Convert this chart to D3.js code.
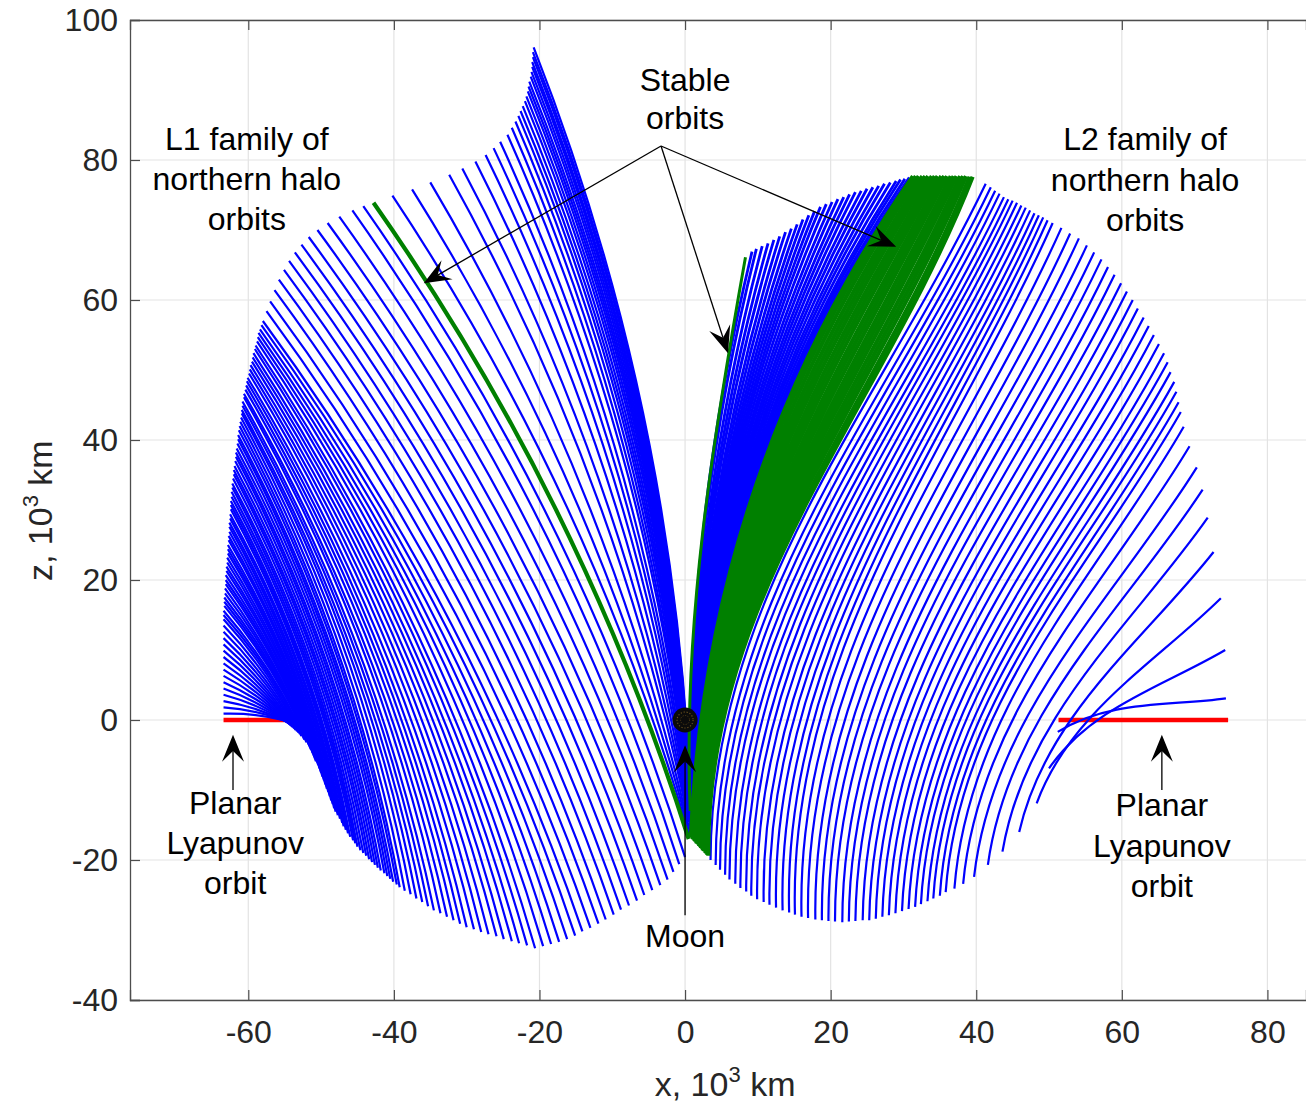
<!DOCTYPE html>
<html><head><meta charset="utf-8">
<script src="https://cdn.jsdelivr.net/npm/d3@7"></script>
<style>
body{margin:0;background:#fff}
text{font-family:"Liberation Sans",Arial,Helvetica,sans-serif}
</style>
</head><body>
<svg id="chart" width="1306" height="1104"></svg>
<script>
// ---------------- DATA (units: 10^3 km) ----------------
const xTicks = [-60,-40,-20,0,20,40,60,80];
const zTicks = [-40,-20,0,20,40,60,80,100];

// Planar Lyapunov orbits (x-range at z = 0)
const L1_lyapunovX = [-63.4, -54.9];
const L2_lyapunovX = [51.3, 74.6];

// L1 northern halo family: upper end (top) and lower end (bottom) of each x-z arc
const L1_topX = [
 -63.4,-63.4,-63.4,-63.4,-63.4,-63.4,-63.4,-63.4,-63.4,-63.4,-63.4,-63.4,-63.4,-63.4,-63.4,-63.4,
 -63.4,-63.4,-63.3,-63.3,-63.3,-63.2,-63.2,-63.1,-63.1,-63.1,-63.0,-63.0,-62.9,-62.9,-62.8,-62.8,-62.8,-62.7,-62.7,-62.6,-62.6,-62.6,-62.5,-62.5,-62.4,-62.4,-62.4,-62.3,-62.3,-62.2,-62.2,-62.1,-62.0,-62.0,-61.9,-61.8,-61.7,-61.7,-61.6,-61.5,-61.4,-61.4,-61.3,-61.2,
 -61.1,-61.0,-60.9,-60.9,-60.8,-60.8,-60.6,-60.6,-60.4,-60.3,-60.2,-60.1,-59.9,-59.8,-59.7,-59.5,-59.4,-59.3,-59.1,-59.0,-58.8,-58.7,-58.6,-58.4,-58.2,-58.0,
 -57.5,-57.0,-56.4,-55.8,-55.1,-54.4,-53.6,-52.7,-51.7,-50.5,-49.1,-47.5,-45.7,-44.2,
 -40.2,-37.5,-35.0,-32.4,-30.6,-28.8,-27.4,-26.3,-25.4,-24.4,-23.8,-23.3,-22.9,-22.6,-22.3,-22.0,-21.8,-21.6,-21.5,-21.4,-21.2,-21.1,-21.0,-21.0,-20.9,-20.9,-20.8];
const L1_topZ = [
 0.9,1.8,2.7,3.6,4.5,5.4,6.3,7.2,8.1,9.0,9.9,10.8,11.7,12.6,13.5,14.4,
 15.0,15.6,16.3,16.9,17.5,18.1,18.8,19.4,20.0,20.7,21.3,21.9,22.5,23.2,23.8,24.4,25.0,25.7,26.3,26.9,27.6,28.2,28.8,29.4,30.1,30.7,31.3,31.9,32.6,33.2,33.8,34.5,35.1,35.7,36.3,37.0,37.6,38.2,38.8,39.5,40.1,40.7,41.4,42.0,
 42.6,43.2,43.8,44.3,44.9,45.5,46.1,46.6,47.2,47.8,48.4,48.9,49.5,50.1,50.7,51.2,51.8,52.4,53.0,53.5,54.1,54.7,55.3,55.8,56.4,57.0,
 58.4,59.8,61.4,62.9,64.3,65.6,66.8,67.9,69.0,70.0,71.0,71.9,72.8,73.4,
 74.9,75.8,76.8,77.9,78.8,79.8,80.7,81.7,82.6,83.6,84.6,85.5,86.3,87.0,87.7,88.4,89.1,89.8,90.5,91.2,91.9,92.6,93.3,94.0,94.7,95.4,96.1];
const L1_botX = [
 -54.8,-54.7,-54.6,-54.5,-54.4,-54.3,-54.2,-54.1,-54.0,-53.9,-53.7,-53.5,-53.3,-53.1,-52.9,-52.7,
 -52.3,-52.0,-51.6,-51.4,-51.1,-50.9,-50.7,-50.4,-50.2,-50.0,-49.8,-49.6,-49.4,-49.2,-49.0,-48.8,-48.6,-48.4,-48.2,-48.0,-47.7,-47.4,-47.1,-46.9,-46.6,-46.3,-46.0,-45.6,-45.3,-45.0,-44.6,-44.2,-43.8,-43.4,-43.0,-42.6,-42.2,-41.8,-41.3,-40.9,-40.5,-40.1,-39.6,-39.2,
 -38.5,-37.7,-36.9,-36.1,-35.3,-34.5,-33.6,-32.7,-31.8,-30.9,-30.0,-29.0,-28.0,-27.0,-25.9,-24.9,-23.8,-22.8,-21.7,-20.6,-19.5,-18.4,-17.3,-16.2,-15.1,-14.1,-13.0,-11.9,-10.9,-9.8,-8.8,-7.7,-6.6,-5.6,-4.5,-3.4,-2.4,-1.6,-0.8,0.0,
 0.5,0.5,0.5,0.5,0.5,0.5,0.5,0.5,0.5,0.5,0.4,0.4,0.4,0.4,0.4,0.4,0.4,0.4,0.4,0.4,0.3,0.3,0.3,0.3,0.3,0.3,0.3];
const L1_botZ = [
 -0.1,-0.2,-0.3,-0.4,-0.5,-0.6,-0.7,-0.8,-0.9,-1.0,-1.2,-1.4,-1.6,-1.8,-2.0,-2.3,
 -2.8,-3.2,-3.7,-4.2,-4.8,-5.3,-5.9,-6.4,-6.9,-7.5,-8.1,-8.6,-9.2,-9.8,-10.3,-10.9,-11.5,-12.0,-12.6,-13.1,-13.6,-14.1,-14.7,-15.2,-15.7,-16.2,-16.7,-17.2,-17.6,-18.1,-18.6,-19.0,-19.4,-19.9,-20.3,-20.7,-21.1,-21.5,-21.9,-22.3,-22.7,-23.1,-23.5,-23.9,
 -24.4,-24.9,-25.5,-26.0,-26.6,-27.2,-27.6,-28.1,-28.6,-29.1,-29.6,-29.9,-30.3,-30.6,-30.9,-31.3,-31.6,-31.9,-32.2,-32.6,-32.3,-32.0,-31.7,-31.3,-30.8,-30.2,-29.7,-29.1,-28.5,-27.8,-27.1,-26.5,-25.8,-25.0,-24.3,-23.6,-22.8,-21.7,-20.6,-19.6,
 -16.2,-15.7,-15.2,-14.6,-14.1,-13.6,-13.0,-12.5,-12.0,-11.4,-10.9,-10.4,-9.8,-9.3,-8.8,-8.2,-7.7,-7.2,-6.6,-6.1,-5.6,-5.0,-4.5,-4.0,-3.4,-2.9,-2.4];
// L1 stable orbit [top x, top z, bottom x, bottom z]
const L1_stable = [-42.8, 73.9, 0.5, -17.0];

// L2 northern halo family, outer (unstable) members
const L2_topX = [
 74.3,74.2,73.6,72.6,71.8,71.1,70.3,69.3,68.5,
 68.1,67.8,67.5,67.2,66.7,66.3,65.8,65.1,64.4,63.7,63.0,62.2,61.5,60.7,59.9,59.0,58.1,57.2,56.2,55.2,54.1,52.9,51.7,50.5,49.8,49.2,48.6,48.0,47.4,46.8,46.2,45.6,45.0,44.4,43.8,43.2,42.6,42.0,41.3];
const L2_topZ = [
 3.1,10.0,17.4,24.0,28.9,32.9,36.1,39.1,41.9,
 44.0,45.4,46.9,48.3,49.7,51.1,52.4,53.7,55.0,56.3,57.5,58.8,60.0,61.2,62.4,63.6,64.7,65.8,66.8,67.8,68.8,69.5,70.3,71.0,71.4,71.8,72.1,72.4,72.8,73.2,73.5,73.9,74.2,74.4,74.7,75.2,75.6,76.1,76.6];
const L2_botX = [
 51.2,50.0,48.3,45.9,43.6,41.6,39.7,38.2,37.0,
 35.8,35.0,34.1,33.3,32.4,31.6,30.7,29.8,28.9,28.0,27.1,26.2,25.3,24.4,23.4,22.5,21.6,20.6,19.7,18.8,17.9,16.9,16.0,15.1,14.3,13.4,12.5,11.6,10.8,9.9,9.1,8.4,7.6,6.9,6.1,5.5,4.8,4.2,3.5];
const L2_botZ = [
 -1.7,-6.9,-11.9,-16.0,-18.8,-20.7,-22.4,-23.4,-24.1,
 -24.6,-25.1,-25.5,-25.9,-26.3,-26.7,-27.0,-27.3,-27.6,-27.9,-28.1,-28.4,-28.6,-28.6,-28.7,-28.8,-28.9,-28.8,-28.7,-28.6,-28.5,-28.3,-28.1,-27.8,-27.5,-27.2,-26.8,-26.4,-26.0,-25.6,-25.1,-24.5,-24.0,-23.4,-22.8,-22.1,-21.4,-20.7,-20.0];
// L2 stable members (green band): ends and arc bending (lower / upper part)
const L2_stableTopX = [39.5,39.1,38.6,38.2,37.8,37.3,36.9,36.5,36.0,35.6,35.2,34.7,34.3,33.9,33.4,33.0,32.6,32.1,31.7,31.3];
const L2_stableTopZ = [77.6,77.6,77.7,77.7,77.7,77.7,77.7,77.7,77.7,77.7,77.7,77.7,77.7,77.7,77.7,77.7,77.7,77.7,77.7,77.7];
const L2_stableBotX = [3.20,3.07,2.95,2.82,2.70,2.57,2.44,2.32,2.19,2.06,1.94,1.81,1.68,1.56,1.43,1.31,1.18,1.05,0.93,0.80];
const L2_stableBotZ = [-19.4,-19.3,-19.1,-19.0,-18.8,-18.7,-18.6,-18.4,-18.3,-18.1,-18.0,-17.8,-17.7,-17.6,-17.4,-17.3,-17.1,-17.0,-16.8,-16.7];
const L2_stableBendLow  = [0.130,0.128,0.126,0.124,0.122,0.120,0.118,0.116,0.114,0.112,0.110,0.108,0.106,0.104,0.102,0.100,0.098,0.096,0.094,0.092];
const L2_stableBendHigh = [0.000,0.005,0.010,0.015,0.020,0.025,0.030,0.035,0.040,0.045,0.050,0.055,0.060,0.065,0.070,0.075,0.080,0.085,0.090,0.094];
// L2 inner (unstable) members between the green band and the Moon
const L2_innerTopX = [30.8,30.2,29.6,29.0,28.2,27.4,26.6,25.8,25.0,24.2,23.4,22.6,21.8,21.0,20.2,19.4,18.6,17.8,17.0,16.2,15.4,14.6,13.8,13.0,12.2,11.4,10.6,9.8,9.2];
const L2_innerTopZ = [77.5,77.3,77.2,77.0,76.8,76.6,76.3,76.1,75.9,75.6,75.4,75.1,74.7,74.4,74.0,73.7,73.3,72.7,72.1,71.5,70.8,70.2,69.7,69.1,68.6,68.1,67.7,67.3,66.9];
const L2_innerBotX = [0.80,0.80,0.80,0.80,0.80,0.80,0.79,0.79,0.79,0.78,0.78,0.78,0.77,0.77,0.76,0.76,0.75,0.75,0.74,0.74,0.73,0.73,0.72,0.72,0.71,0.71,0.70,0.70,0.70];
const L2_innerBotZ = [-16.6,-16.5,-16.4,-16.3,-16.1,-16.0,-15.9,-15.8,-15.6,-15.5,-15.4,-15.3,-15.2,-15.0,-14.9,-14.8,-14.7,-14.5,-14.4,-14.3,-14.2,-14.1,-13.9,-13.8,-13.7,-13.6,-13.5,-13.3,-13.2];
const L2_innerBend = [0.094,0.092,0.090,0.088,0.086,0.084,0.082,0.080,0.078,0.076,0.074,0.072,0.070,0.068,0.066,0.064,0.062,0.060,0.058,0.056,0.054,0.052,0.050,0.048,0.047,0.045,0.043,0.042,0.041];
// L2 isolated stable orbit near the Moon [top x, top z, bottom x, bottom z]
const L2_stableNearMoon = [8.3, 66.1, 0.7, -13.0];
const moon = [0, 0];

// ---------------- CHART ----------------
const svg = d3.select("#chart");
const x = d3.scaleLinear().domain([-76.25, 85.3]).range([130, 1306]);
const y = d3.scaleLinear().domain([-40, 100]).range([1000, 20]);

const BLUE = "#0000ff", GREEN = "#008000", RED = "#ff0000";

// grid
const grid = svg.append("g");
grid.selectAll(".gx").data(xTicks).join("line")
  .attr("x1", d => x(d)).attr("x2", d => x(d)).attr("y1", y(-40)).attr("y2", y(100))
  .attr("stroke", "#e3e3e3").attr("stroke-width", 1.2);
grid.selectAll(".gy").data(zTicks).join("line")
  .attr("x1", x(-76.25)).attr("x2", x(85.3)).attr("y1", d => y(d)).attr("y2", d => y(d))
  .attr("stroke", "#e3e3e3").attr("stroke-width", 1.2);

// orbit arc in x-z projection: cubic bezier bent sideways from its chord
function arcPath(xt, zt, xb, zb, c1, c2, side) {
  const cx = xt - xb, cz = zt - zb, L = Math.hypot(cx, cz);
  const nx = side * cz / L, nz = -side * cx / L;
  const p1x = xb + cx / 3 + nx * c1 * L, p1z = zb + cz / 3 + nz * c1 * L;
  const p2x = xb + 2 * cx / 3 + nx * c2 * L, p2z = zb + 2 * cz / 3 + nz * c2 * L;
  const p = d3.path();
  p.moveTo(x(xb), y(zb));
  p.bezierCurveTo(x(p1x), y(p1z), x(p2x), y(p2z), x(xt), y(zt));
  return p.toString();
}

const plot = svg.append("g").attr("fill", "none").attr("stroke-linecap", "butt");

// planar Lyapunov orbits
[L1_lyapunovX, L2_lyapunovX].forEach(r => {
  plot.append("line").attr("x1", x(r[0])).attr("x2", x(r[1])).attr("y1", y(0)).attr("y2", y(0))
    .attr("stroke", RED).attr("stroke-width", 4.5);
});

// L1 family
plot.append("g").selectAll("path").data(d3.range(L1_topX.length)).join("path")
  .attr("d", i => arcPath(L1_topX[i], L1_topZ[i], L1_botX[i], L1_botZ[i], 0.05, 0.05, 1))
  .attr("stroke", BLUE).attr("stroke-width", 2.2);

// L2 family
plot.append("g").selectAll("path").data(d3.range(L2_topX.length)).join("path")
  .attr("d", i => arcPath(L2_topX[i], L2_topZ[i], L2_botX[i], L2_botZ[i], 0.13, 0.02, -1))
  .attr("stroke", BLUE).attr("stroke-width", 2.2);
plot.append("g").selectAll("path").data(d3.range(L2_innerTopX.length)).join("path")
  .attr("d", i => arcPath(L2_innerTopX[i], L2_innerTopZ[i], L2_innerBotX[i], L2_innerBotZ[i], L2_innerBend[i], L2_innerBend[i], -1))
  .attr("stroke", BLUE).attr("stroke-width", 2.8);
plot.append("g").selectAll("path").data(d3.range(L2_stableTopX.length)).join("path")
  .attr("d", i => arcPath(L2_stableTopX[i], L2_stableTopZ[i], L2_stableBotX[i], L2_stableBotZ[i], L2_stableBendLow[i], L2_stableBendHigh[i], -1))
  .attr("stroke", GREEN).attr("stroke-width", 4.2);
plot.append("path")
  .attr("d", arcPath(L2_stableNearMoon[0], L2_stableNearMoon[1], L2_stableNearMoon[2], L2_stableNearMoon[3], 0.045, 0.025, -1))
  .attr("stroke", GREEN).attr("stroke-width", 3);
// L1 stable
plot.append("path")
  .attr("d", arcPath(L1_stable[0], L1_stable[1], L1_stable[2], L1_stable[3], 0.05, 0.05, 1))
  .attr("stroke", GREEN).attr("stroke-width", 4.2);

// Moon
const mg = svg.append("g").attr("transform", `translate(${x(moon[0])},${y(moon[1])})`);
mg.append("circle").attr("r", 12.5).attr("fill", "#0b0b0b");
mg.append("circle").attr("r", 8).attr("fill", "none").attr("stroke", "#6e5520").attr("stroke-width", 1.1).attr("stroke-dasharray", "1.2 1.8");
mg.append("circle").attr("r", 4.5).attr("fill", "none").attr("stroke", "#5a4418").attr("stroke-width", 1).attr("stroke-dasharray", "1 1.6");

// axes
const AX = "#262626";
const fmt = d => String(d);
const gB = svg.append("g").attr("transform", `translate(0,${y(-40)})`)
  .call(d3.axisBottom(x).tickValues(xTicks).tickSize(-10).tickPadding(20).tickFormat(fmt));
const gL = svg.append("g").attr("transform", `translate(${x(-76.25)},0)`)
  .call(d3.axisLeft(y).tickValues(zTicks).tickSize(-10).tickPadding(12).tickFormat(fmt));
const gT = svg.append("g").attr("transform", `translate(0,${y(100)})`)
  .call(d3.axisTop(x).tickValues(xTicks).tickSize(-10).tickFormat(""));
[gB, gL, gT].forEach(g => {
  g.select(".domain").attr("stroke", "#4d4d4d").attr("stroke-width", 1.3);
  g.selectAll(".tick line").attr("stroke", "#4d4d4d").attr("stroke-width", 1.2);
  g.selectAll(".tick text").attr("fill", AX).attr("font-size", 32)
    .attr("font-family", '"Liberation Sans",Arial,sans-serif');
});

// axis labels
const xl = svg.append("text").attr("x", x(5.5)).attr("y", 1096).attr("text-anchor", "middle")
  .attr("font-size", 34).attr("fill", AX);
xl.append("tspan").text("x, 10");
xl.append("tspan").attr("font-size", 22).attr("dy", -14).text("3");
xl.append("tspan").attr("dy", 14).text(" km");
const zl = svg.append("text").attr("transform", `translate(52,${y(29.9)}) rotate(-90)`).attr("text-anchor", "middle")
  .attr("font-size", 34).attr("fill", AX);
zl.append("tspan").text("z, 10");
zl.append("tspan").attr("font-size", 22).attr("dy", -14).text("3");
zl.append("tspan").attr("dy", 14).text(" km");

// annotations
function label(lines, cx, zs) {
  lines.forEach((t, i) => {
    svg.append("text").attr("x", x(cx)).attr("y", y(zs[i])).attr("text-anchor", "middle")
      .attr("dominant-baseline", "central").attr("font-size", 32).attr("fill", "#000").text(t);
  });
}
label(["L1 family of", "northern halo", "orbits"], -60.2, [83.0, 77.3, 71.6]);
label(["L2 family of", "northern halo", "orbits"], 63.2, [83.0, 77.1, 71.4]);
label(["Stable", "orbits"], 0, [91.5, 86.0]);
label(["Planar", "Lyapunov", "orbit"], -61.8, [-11.9, -17.6, -23.3]);
label(["Planar", "Lyapunov", "orbit"], 65.5, [-12.1, -18.0, -23.7]);
label(["Moon"], 0, [-30.9]);

function arrow(x0, z0, x1, z1) {
  const X0 = x(x0), Y0 = y(z0), X1 = x(x1), Y1 = y(z1);
  const dx = X1 - X0, dy = Y1 - Y0, L = Math.hypot(dx, dy);
  const ux = dx / L, uy = dy / L, nx = -uy, ny = ux;
  const len = 27, hw = 11;
  svg.append("line").attr("x1", X0).attr("y1", Y0).attr("x2", X1 - ux * len * 0.6).attr("y2", Y1 - uy * len * 0.6)
    .attr("stroke", "#000").attr("stroke-width", 1.3);
  const pts = [[X1, Y1],
    [X1 - ux * len + nx * hw, Y1 - uy * len + ny * hw],
    [X1 - ux * len * 0.6, Y1 - uy * len * 0.6],
    [X1 - ux * len - nx * hw, Y1 - uy * len - ny * hw]];
  svg.append("path").attr("d", "M" + pts.map(p => p.join(",")).join("L") + "Z").attr("fill", "#000");
}
arrow(-3.3, 82.0, -35.9, 62.4);
arrow(-3.3, 82.0, 5.9, 52.4);
arrow(-3.3, 82.0, 29.0, 67.6);
arrow(-62.1, -10.0, -62.1, -2.1);
arrow(65.5, -10.0, 65.5, -2.1);
arrow(0, -27.9, 0, -3.6);
</script>
</body></html>
